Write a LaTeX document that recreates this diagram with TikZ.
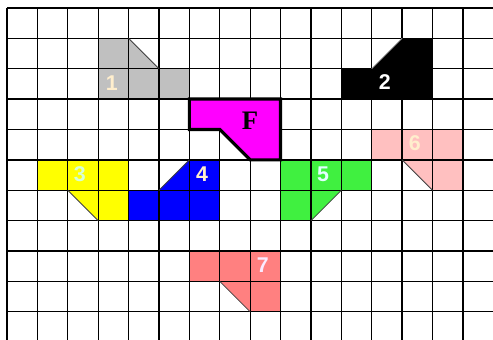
\documentclass[tikz,border=0pt]{standalone}
\usepackage{fontspec}
\setmainfont{Liberation Serif}
\newfontfamily\digitfont{Liberation Sans}
\usepackage{xcolor}
\usetikzlibrary{positioning}
\definecolor{piecegrey}{RGB}{192,192,192}
\definecolor{piecemagenta}{RGB}{255,0,255}
\definecolor{pieceyellow}{RGB}{255,255,0}
\definecolor{pieceblue}{RGB}{0,0,255}
\definecolor{piecegreen}{RGB}{64,240,64}
\definecolor{piecepink}{RGB}{255,192,192}
\definecolor{piecesalmon}{RGB}{255,128,128}
\definecolor{labelcream}{RGB}{255,238,205}
\definecolor{labelmint}{RGB}{215,255,215}
\definecolor{labelice}{RGB}{225,255,255}
\definecolor{labellilac}{RGB}{250,235,255}
\tikzset{
    gridline/.style={line width=1.2pt, draw=black},
    cutline/.style={line width=0.7pt, draw=black!75},
    targetpiece/.style={fill=piecemagenta, draw=black, line width=3pt, line join=miter},
    piecelabel/.style={inner sep=0pt, font=\digitfont\bfseries\fontsize{20}{20}\selectfont},
    targetlabel/.style={inner sep=0pt, font=\bfseries\fontsize{25}{25}\selectfont}
}
\begin{document}
\begin{tikzpicture}[x=1cm,y=-1cm]
    \useasboundingbox (-0.23,-0.26) rectangle (15.99,10.92);
    \fill[white] (-0.23,-0.26) rectangle (15.99,10.92);

    % Pieces (fills under the grid)
    \fill[piecegrey]   (3,1) -- (4,1) -- (5,2) -- (6,2) -- (6,3) -- (3,3) -- cycle;
    \fill[black]       (11,2) -- (12,2) -- (13,1) -- (14,1) -- (14,3) -- (11,3) -- cycle;
    \fill[pieceyellow] (1,5) -- (4,5) -- (4,7) -- (3,7) -- (2,6) -- (1,6) -- cycle;
    \fill[pieceblue]   (4,6) -- (5,6) -- (6,5) -- (7,5) -- (7,7) -- (4,7) -- cycle;
    \fill[piecegreen]  (9,5) -- (12,5) -- (12,6) -- (11,6) -- (10,7) -- (9,7) -- cycle;
    \fill[piecepink]   (12,4) -- (15,4) -- (15,6) -- (14,6) -- (13,5) -- (12,5) -- cycle;
    \fill[piecesalmon] (6,8) -- (9,8) -- (9,10) -- (8,10) -- (7,9) -- (6,9) -- cycle;

    % Grid
    \foreach \c in {0,...,16}
        \draw[gridline] (\c,0) -- (\c,11);
    \foreach \r in {0,...,10}
        \draw[gridline] (0,\r) -- (16.3,\r);

    % Diagonal cuts
    \draw[cutline] (4,1) -- (5,2);
    \draw[cutline, draw=black!35] (12,2) -- (13,1);
    \draw[cutline] (2,6) -- (3,7);
    \draw[cutline] (5,6) -- (6,5);
    \draw[cutline] (11,6) -- (10,7);
    \draw[cutline] (13,5) -- (14,6);
    \draw[cutline] (7,9) -- (8,10);

    % Target piece
    \draw[targetpiece] (6,3) -- (9,3) -- (9,5) -- (8,5) -- (7,4) -- (6,4) -- cycle;
    \node[targetlabel] (target) at (8,3.72) {F};

    % Piece numbers
    \node[piecelabel, text=labelcream] (p1) at (3.45,2.47) {1};
    \node[piecelabel, text=white]      (p2) at (12.43,2.45) {2};
    \node[piecelabel, text=labelmint]  (p3) at (2.4,5.47) {3};
    \node[piecelabel, text=labelcream] (p4) at (6.42,5.47) {4};
    \node[piecelabel, text=labelice]   (p5) at (10.4,5.47) {5};
    \node[piecelabel, text=labelcream] (p6) at (13.42,4.45) {6};
    \node[piecelabel, text=labellilac] (p7) at (8.42,8.47) {7};
\end{tikzpicture}
\end{document}
